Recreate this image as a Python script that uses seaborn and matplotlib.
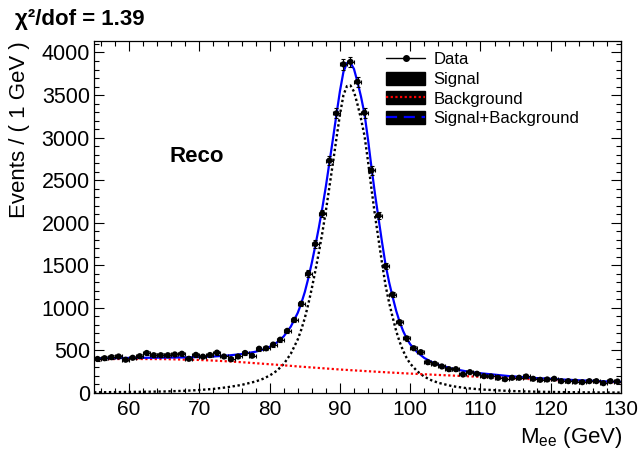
import numpy as np
import pandas as pd
import matplotlib
matplotlib.use("Agg")
import matplotlib.pyplot as plt
import seaborn as sns
from matplotlib.lines import Line2D
from matplotlib.patches import Patch
from matplotlib.legend_handler import HandlerTuple
from matplotlib.ticker import MultipleLocator

# ---- data (1 GeV bins, 55-130 GeV) ----
bin_centers = [55.5 + i for i in range(75)]
events = [400, 409, 421, 429, 391, 414, 432, 470, 444, 444,
          444, 453, 461, 402, 448, 427, 446, 474, 429, 398,
          429, 470, 438, 520, 525, 569, 626, 730, 858, 1049,
          1402, 1750, 2108, 2730, 3285, 3861, 3890, 3656, 3292, 2615,
          2085, 1490, 1157, 833, 642, 526, 480, 362, 343, 312,
          280, 280, 218, 245, 226, 198, 194, 179, 162, 179,
          179, 194, 167, 155, 159, 167, 139, 139, 135, 127,
          139, 139, 115, 139, 135]

# ---- fitted model curves ----
curve_mass = [55, 60, 65, 68, 70, 72, 74, 76, 78, 79, 80, 81, 82, 83, 84,
              84.5, 85, 85.5, 86, 86.5, 87, 87.5, 88, 88.5, 89, 89.5, 90,
              90.5, 91, 91.5, 92, 92.5, 93, 93.5, 94, 94.5, 95, 95.5, 96,
              96.5, 97, 97.5, 98, 98.5, 99, 99.5, 100, 101, 102, 103, 104,
              106, 108, 110, 114, 118, 122, 126, 130]
signal_curve = [8, 12, 18, 26, 35, 48, 68, 95, 135, 165, 205, 260, 340, 460, 630,
                745, 880, 1045, 1230, 1435, 1650, 1885, 2140, 2420, 2700, 2990, 3270,
                3500, 3605, 3612, 3540, 3390, 3220, 3020, 2720, 2390, 2080, 1800, 1520,
                1260, 1060, 890, 730, 600, 495, 410, 345, 255, 192, 150, 120,
                80, 57, 42, 24, 15, 10, 7, 5]
background_curve = [398, 400, 398, 392, 388, 381, 372, 362, 350, 344, 338, 332, 325, 319, 312,
                    309, 306, 303, 300, 297, 294, 291, 288, 285, 282, 279, 276,
                    273, 271, 268, 266, 263, 261, 258, 256, 253, 251, 248, 246,
                    244, 241, 239, 237, 235, 232, 230, 228, 224, 220, 216, 212,
                    205, 197, 190, 175, 160, 147, 135, 124]

legend_labels = ["Data", "Signal", "Background", "Signal+Background"]
title_text = "\u03c7\u00b2/dof = 1.39"
x_title = r"M$_{\mathrm{ee}}$ (GeV)"
y_title = "Events / ( 1 GeV )"
tag_text = "Reco"

# ---- style ----
sns.set_theme(style="ticks")
plt.rcParams["font.family"] = ["Liberation Sans", "DejaVu Sans"]
plt.rcParams["mathtext.fontset"] = "custom"
plt.rcParams["mathtext.rm"] = "Liberation Sans"
plt.rcParams["mathtext.it"] = "Liberation Sans:italic"
plt.rcParams["mathtext.bf"] = "Liberation Sans:bold"
for key in ["text.color", "axes.labelcolor", "xtick.color", "ytick.color",
            "axes.edgecolor", "xtick.labelcolor", "ytick.labelcolor"]:
    plt.rcParams[key] = "black"

W, H = 639, 453
X0, X1, YT, YB = 94, 621, 41, 393
fig = plt.figure(figsize=(W / 100, H / 100), dpi=100)
fig.patch.set_facecolor("white")
ax = fig.add_axes([X0 / W, 1 - YB / H, (X1 - X0) / W, (YB - YT) / H])
ax.set_facecolor("white")

df_curves = pd.DataFrame({
    "mass": curve_mass,
    "signal": signal_curve,
    "background": background_curve,
})
df_curves["total"] = df_curves["signal"] + df_curves["background"]

sns.lineplot(data=df_curves, x="mass", y="signal", ax=ax, color="black",
             lw=1.7, linestyle=(0, (1, 1.1)), sort=False, estimator=None)
sns.lineplot(data=df_curves, x="mass", y="background", ax=ax, color="#ff0000",
             lw=1.6, linestyle=(0, (1, 1.1)), sort=False, estimator=None)
sns.lineplot(data=df_curves, x="mass", y="total", ax=ax, color="#0000ff",
             lw=1.6, sort=False, estimator=None)

df_data = pd.DataFrame({"mass": bin_centers, "events": events})
err = np.sqrt(df_data["events"].to_numpy())
ax.errorbar(df_data["mass"], df_data["events"], yerr=err, xerr=0.5,
            fmt="none", ecolor="black", elinewidth=0.8, capsize=1.2,
            capthick=0.8, zorder=4)
sns.scatterplot(data=df_data, x="mass", y="events", ax=ax, color="black",
                s=20, edgecolor="none", zorder=5)

ax.set_xlim(55, 130)
ax.set_ylim(0, 4135)
ax.set_xlabel("")
ax.set_ylabel("")

ax.xaxis.set_major_locator(MultipleLocator(10))
ax.xaxis.set_minor_locator(MultipleLocator(2))
ax.yaxis.set_major_locator(MultipleLocator(500))
ax.yaxis.set_minor_locator(MultipleLocator(100))
ax.tick_params(which="both", direction="in", top=True, right=True,
               color="black", width=0.8)
ax.tick_params(which="major", length=7)
ax.tick_params(which="minor", length=3.5)
ax.tick_params(axis="x", which="major", labelsize=15, pad=5)
ax.tick_params(axis="y", which="major", labelsize=15.5, pad=3)
for sp in ax.spines.values():
    sp.set_visible(True)
    sp.set_color("black")
    sp.set_linewidth(0.9)

# texts
fig.text(15 / W, 1 - 20 / H, title_text, fontsize=16, fontweight="bold",
         ha="left", va="center")
fig.text(623 / W, 1 - 437 / H, x_title, fontsize=16, ha="right", va="center")
fig.text(20 / W, 1 - 41 / H, y_title, fontsize=16, rotation=90,
         ha="center", va="top")
ax.text(65.8, 2780, tag_text, fontsize=16, fontweight="bold",
        ha="left", va="center")

# legend
h_data = Line2D([], [], color="black", lw=1, marker="o", markersize=4)
h_sig = Patch(facecolor="black", edgecolor="black")
h_bkg = (Patch(facecolor="black", edgecolor="black"),
         Line2D([], [], color="#ff0000", lw=1.6, linestyle=(0, (1, 1.1))))
h_tot = (Patch(facecolor="black", edgecolor="black"),
         Line2D([], [], color="#0000ff", lw=1.6, linestyle=(0, (5, 3))))
ax.legend([h_data, h_sig, h_bkg, h_tot], legend_labels,
          handler_map={tuple: HandlerTuple(ndivide=1, pad=0)},
          loc="upper left",
          bbox_to_anchor=((386 - X0) / (X1 - X0), (YB - 52) / (YB - YT)),
          frameon=False, fontsize=12, borderpad=0, borderaxespad=0,
          handlelength=2.35, handleheight=0.85, handletextpad=0.5,
          labelspacing=0.25, numpoints=1)

fig.savefig("out.png", dpi=100, facecolor="white")
